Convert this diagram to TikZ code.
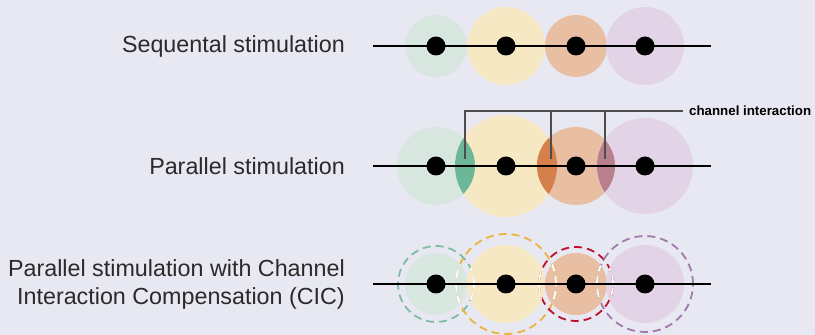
\documentclass[tikz,border=0pt]{standalone}
\usepackage{fontspec}
\setmainfont{Liberation Sans}
\usepackage{xcolor}
\usepackage{tikz}
\usetikzlibrary{positioning}

\definecolor{bgcol}{HTML}{E8E8F2}
\definecolor{txtcol}{HTML}{2A2A2A}
\definecolor{greenlt}{HTML}{D7E7E0}
\definecolor{yellowlt}{HTML}{F7E8C4}
\definecolor{orangelt}{HTML}{E8BFA2}
\definecolor{purplelt}{HTML}{E2D4E6}
\definecolor{greenlens}{HTML}{6DB799}
\definecolor{orangelens}{HTML}{D4804A}
\definecolor{purplelens}{HTML}{B87F8C}
\definecolor{greenring}{HTML}{7BBFA0}
\definecolor{yellowring}{HTML}{E9B53C}
\definecolor{redring}{HTML}{C0102E}
\definecolor{purplering}{HTML}{A07AAA}
\definecolor{ciline}{HTML}{4D4D4D}

\begin{document}
\begin{tikzpicture}[x=1pt, y=1pt,
		dot/.style={circle, fill=black, inner sep=0pt, minimum size=19pt},
		rowtext/.style={font=\fontsize{23.3}{28}\selectfont, text=txtcol, align=right, inner sep=0pt},
		axis/.style={line width=2pt, black},
		ring/.style={dash pattern=on 8pt off 5pt, line width=1.8pt}]
	\fill[bgcol] (0,0) rectangle (815,335);

	% sequential stimulation
	\fill[greenlt] (436,289) circle (31pt);
	\fill[yellowlt] (506,289) circle (39pt);
	\fill[orangelt] (576,289) circle (31pt);
	\fill[purplelt] (645,289) circle (39pt);
	\coordinate (sL) at (373,289);
	\coordinate (sR) at (711,289);
	\draw[axis] (sL) -- (sR);
	\node [dot] (s1) at (436,289) {};
	\node [dot] (s2) at (506,289) {};
	\node [dot] (s3) at (576,289) {};
	\node [dot] (s4) at (645,289) {};
	\node [rowtext, left=28pt of sL] (seq) {Sequental stimulation};

	% parallel stimulation
	\fill[greenlt] (436,169) circle (39pt);
	\fill[yellowlt] (506,169) circle (51pt);
	\fill[orangelt] (576,169) circle (39pt);
	\fill[purplelt] (645,169) circle (48pt);
	\begin{scope}
		\clip (436,169) circle (39pt);
		\fill[greenlens] (506,169) circle (51pt);
	\end{scope}
	\begin{scope}
		\clip (506,169) circle (51pt);
		\fill[orangelens] (576,169) circle (39pt);
	\end{scope}
	\begin{scope}
		\clip (576,169) circle (39pt);
		\fill[purplelens] (645,169) circle (48pt);
	\end{scope}
	\node [font=\bfseries\fontsize{13.3}{15}\selectfont, anchor=west, inner sep=0pt] (ci) at (689,224) {channel interaction};
	\coordinate (lens1) at (465,176);
	\coordinate (lens2) at (551,176);
	\coordinate (lens3) at (605,176);
	\draw[ciline, line width=1.2pt] (lens1) |- ([xshift=-6pt]ci.west);
	\draw[ciline, line width=1.2pt] (lens2) -- (lens2 |- ci.west);
	\draw[ciline, line width=1.2pt] (lens3) -- (lens3 |- ci.west);
	\coordinate (pL) at (373,169);
	\coordinate (pR) at (711,169);
	\draw[axis] (pL) -- (pR);
	\node [dot] (p1) at (436,169) {};
	\node [dot] (p2) at (506,169) {};
	\node [dot] (p3) at (576,169) {};
	\node [dot] (p4) at (645,169) {};
	\node [rowtext, left=28pt of pL] (par) {Parallel stimulation};

	% parallel stimulation with CIC
	\fill[greenlt] (436,51) circle (31pt);
	\fill[yellowlt] (506,51) circle (39pt);
	\fill[orangelt] (576,51) circle (31pt);
	\fill[purplelt] (645,51) circle (39pt);
	\draw[ring, greenring] (436,51) circle (38pt);
	\draw[ring, yellowring] (506,51) circle (50pt);
	\draw[ring, redring] (576,51) circle (37pt);
	\draw[ring, purplering] (645,51) circle (48pt);
	\begin{scope}
		\clip (506,51) circle (39pt);
		\draw[ring, white] (436,51) circle (38pt);
		\draw[ring, white] (576,51) circle (37pt);
	\end{scope}
	\begin{scope}
		\clip (436,51) circle (31pt);
		\draw[ring, white] (506,51) circle (50pt);
	\end{scope}
	\begin{scope}
		\clip (576,51) circle (31pt);
		\draw[ring, white] (506,51) circle (50pt);
		\draw[ring, white] (645,51) circle (48pt);
	\end{scope}
	\begin{scope}
		\clip (645,51) circle (39pt);
		\draw[ring, white] (576,51) circle (37pt);
	\end{scope}
	\coordinate (cL) at (373,51);
	\coordinate (cR) at (711,51);
	\draw[axis] (cL) -- (cR);
	\node [dot] (c1) at (436,51) {};
	\node [dot] (c2) at (506,51) {};
	\node [dot] (c3) at (576,51) {};
	\node [dot] (c4) at (645,51) {};
	\node [rowtext, left=28pt of cL] (cic) {Parallel stimulation with Channel\\Interaction Compensation (CIC)};
\end{tikzpicture}
\end{document}
